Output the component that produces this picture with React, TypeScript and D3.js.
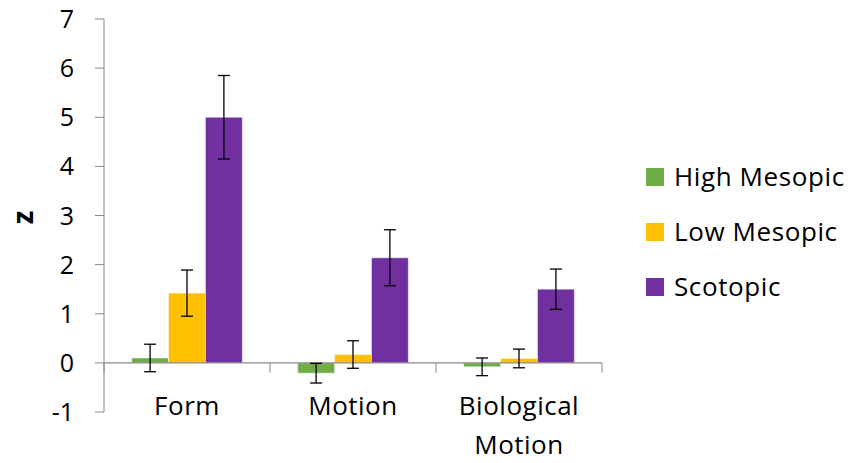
import React from "react";
import * as d3 from "d3";

// Data
const categories = ["Form", "Motion", "Biological Motion"];
const seriesNames = ["High Mesopic", "Low Mesopic", "Scotopic"];
const colors = ["#70AD47", "#FFC000", "#7030A0"];
const highMesopic = [0.1, -0.21, -0.08];
const lowMesopic = [1.42, 0.17, 0.09];
const scotopic = [5.0, 2.14, 1.5];
const highMesopicErr = [0.28, 0.2, 0.18];
const lowMesopicErr = [0.47, 0.28, 0.19];
const scotopicErr = [0.85, 0.57, 0.41];
const yTicks = [-1, 0, 1, 2, 3, 4, 5, 6, 7];

const values = [highMesopic, lowMesopic, scotopic];
const errors = [highMesopicErr, lowMesopicErr, scotopicErr];

const W = 853;
const H = 463;
const font = "'Open Sans', sans-serif";
const fs = 25;
const labelFs = 26;

const App = () => {
  const x0 = d3.scaleBand().domain(categories).range([104, 602]);
  // gap width 150%
  const inner = x0.bandwidth() / (3 + 1.5);
  const x1 = d3
    .scaleBand()
    .domain(seriesNames)
    .range([inner * 0.75, inner * 3.75]);
  const y = d3.scaleLinear().domain([-1, 7]).range([412, 19]);
  const axisColor = "#888888";

  return (
    <svg
      width={W}
      height={H}
      style={{ position: "absolute", left: 0, top: 0, background: "#fff" }}
      fontFamily={font}
    >
      {/* bars */}
      {seriesNames.map((s, si) =>
        categories.map((c, ci) => {
          const v = values[si][ci];
          const bx = (x0(c) as number) + (x1(s) as number);
          return (
            <rect
              key={s + c}
              x={bx}
              y={Math.min(y(v), y(0))}
              width={x1.bandwidth()}
              height={Math.abs(y(v) - y(0))}
              fill={colors[si]}
              stroke="#ffffff"
              strokeOpacity={0.5}
              strokeWidth={1}
            />
          );
        })
      )}

      {/* y axis */}
      <line x1={104} x2={104} y1={y(7)} y2={y(-1)} stroke={axisColor} strokeWidth={1} />
      {yTicks.map((t) => (
        <g key={t}>
          <line x1={95} x2={104} y1={y(t)} y2={y(t)} stroke={axisColor} />
          <text
            x={74}
            y={y(t)}
            dy="0.36em"
            textAnchor="end"
            fontSize={fs}
            fill="#000"
          >
            {t}
          </text>
        </g>
      ))}

      {/* x axis at zero */}
      <line x1={104} x2={602} y1={y(0)} y2={y(0)} stroke={axisColor} strokeWidth={1.3} />
      {[...categories.map((c) => x0(c) as number), 602].map((px, i) => (
        <line key={i} x1={px} x2={px} y1={y(0)} y2={y(0) + 10} stroke={axisColor} />
      ))}

      {/* error bars */}
      {seriesNames.map((s, si) =>
        categories.map((c, ci) => {
          const v = values[si][ci];
          const e = errors[si][ci];
          const cx = (x0(c) as number) + (x1(s) as number) + x1.bandwidth() / 2;
          return (
            <g key={"e" + s + c} stroke="#000" strokeWidth={1.3}>
              <line x1={cx} x2={cx} y1={y(v + e)} y2={y(v - e)} />
              <line x1={cx - 6} x2={cx + 6} y1={y(v + e)} y2={y(v + e)} />
              <line x1={cx - 6} x2={cx + 6} y1={y(v - e)} y2={y(v - e)} />
            </g>
          );
        })
      )}

      {/* category labels */}
      {categories.map((c) => {
        const words = c === "Biological Motion" ? ["Biological", "Motion"] : [c];
        const cx = (x0(c) as number) + x0.bandwidth() / 2;
        return (
          <text
            key={c}
            textAnchor="middle"
            fontSize={labelFs}
            letterSpacing={0.5}
            fill="#000"
          >
            {words.map((w, i) => (
              <tspan key={w} x={cx} y={415 + i * 39}>
                {w}
              </tspan>
            ))}
          </text>
        );
      })}

      {/* y axis title */}
      <text
        transform={`translate(33, ${y(3) + 2}) rotate(-90)`}
        textAnchor="middle"
        fontSize={28}
        fontWeight="bold"
        fill="#000"
      >
        z
      </text>

      {/* legend */}
      {seriesNames.map((s, i) => (
        <g key={s} transform={`translate(646, ${177 + i * 55})`}>
          <rect x={0} y={-9} width={18} height={18} fill={colors[i]} />
          <text
            x={28}
            y={0}
            dy="0.36em"
            fontSize={labelFs}
            letterSpacing={0.6}
            fill="#000"
          >
            {s}
          </text>
        </g>
      ))}
    </svg>
  );
};

export default App;
